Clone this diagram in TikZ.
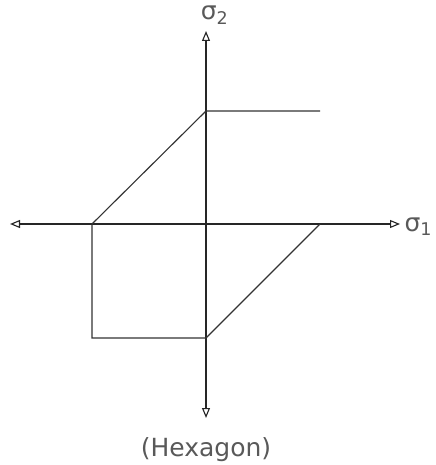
\documentclass[tikz,border=0pt]{standalone}
\usepackage{fontspec}
\setmainfont{DejaVu Sans}
\usetikzlibrary{arrows.meta}

\begin{document}
\begin{tikzpicture}[
    x=0.4pt, y=-0.4pt,
    axis/.style={{Triangle[open, length=4pt, width=3.2pt]}-{Triangle[open, length=4pt, width=3.2pt]}, line width=0.45pt, black!85},
    edge/.style={line width=0.45pt, black!80},
    lbl/.style={inner sep=0pt, text=black!65, font=\fontsize{10}{12}\selectfont}
]
\useasboundingbox (0,0) rectangle (435,465);

% axes
\coordinate (xl) at (10,224);
\coordinate (xr) at (400,224);
\coordinate (yt) at (206,31);
\coordinate (yb) at (206,418);
\draw[axis] (xl) -- (xr);
\draw[axis] (yt) -- (yb);

% yield locus
\coordinate (top) at (206,111);
\coordinate (topr) at (320,111);
\coordinate (left) at (92,224);
\coordinate (botl) at (92,338);
\coordinate (bot) at (206,338);
\coordinate (right) at (320,224);
\draw[edge] (topr) -- (top) -- (left) -- (botl) -- (bot) -- (right);

\node[lbl] (s2) at (215,15) {σ\textsubscript{2}};
\node[lbl, anchor=west] (s1) at (404,227) {σ\textsubscript{1}};
\node[lbl] (cap) at (206,450) {(Hexagon)};
\end{tikzpicture}
\end{document}
